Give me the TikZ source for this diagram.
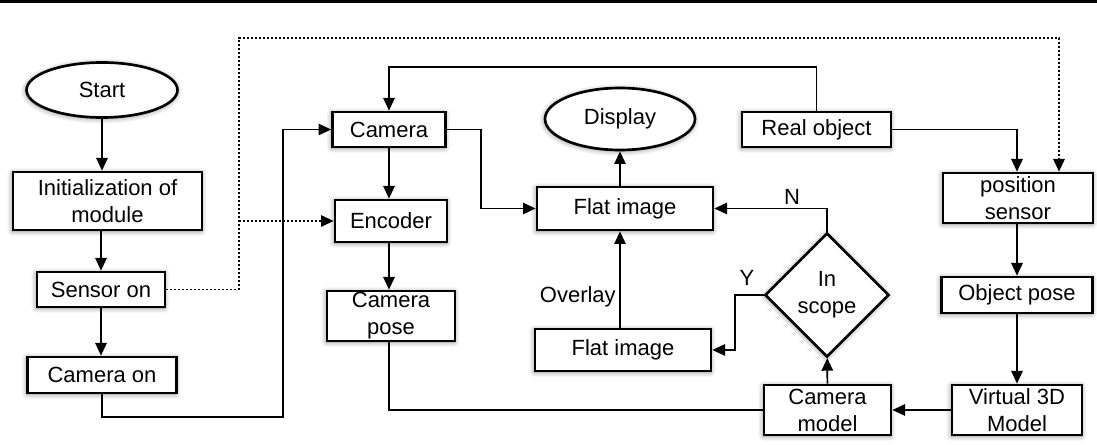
\documentclass[tikz,border=0pt]{standalone}
\usepackage{fontspec}
\setmainfont{Liberation Sans}
\usetikzlibrary{shapes.geometric,arrows.meta,shadows.blur}

\begin{document}
\begin{tikzpicture}[x=0.75pt, y=-0.75pt,
  font=\fontsize{16.5}{20.25}\selectfont,
  >={Triangle[length=9.5pt,width=8.5pt]},
  box/.style={draw, line width=2pt, fill=white, inner sep=0pt, align=center,
    blur shadow={shadow xshift=-0.5pt, shadow yshift=-0.8pt,
      shadow blur radius=4pt, shadow blur steps=8, shadow opacity=45}},
  term/.style={box, ellipse},
  test/.style={box, diamond},
  conn/.style={line width=1.3pt},
  sens/.style={line width=1.4pt, dash pattern=on 1.4pt off 1.6pt}]

 \useasboundingbox (0,0) rectangle (1097,445);
 \draw[line width=2pt] (0,1.3) -- (1097,1.3);

 % left column
 \node[term, minimum width=113.25pt, minimum height=41.25pt] (start) at (102,90) {Start};
 \node[box, minimum width=141.75pt, minimum height=43.5pt] (init) at (107.5,201) {Initialization of\\module};
 \node[box, minimum width=96pt, minimum height=26.25pt] (sensoron) at (101,289.5) {Sensor on};
 \node[box, minimum width=111.75pt, minimum height=27pt] (cameraon) at (102,375) {Camera on};

 % camera column
 \node[box, minimum width=84.75pt, minimum height=26.25pt] (camera) at (389,129.5) {Camera};
 \node[box, minimum width=84pt, minimum height=31.5pt] (encoder) at (391,221) {Encoder};
 \node[box, minimum width=96pt, minimum height=37.5pt] (campose) at (391,316) {Camera\\pose};

 % image column
 \node[term, minimum width=112.5pt, minimum height=46.5pt] (display) at (620,119) {Display};
 \node[box, minimum width=132pt, minimum height=32.25pt] (flat) at (625,208.5) {Flat image};
 \node[box, minimum width=132pt, minimum height=31.5pt] (flatlow) at (623,350) {Flat image};
 \node[anchor=east, inner sep=0pt] (overlay) at (616,297) {Overlay};

 % test
 \node[test, minimum width=93pt, minimum height=93pt] (scope) at (827,295) {In\\scope};
 \node[box, minimum width=95.25pt, minimum height=37.5pt] (cammodel) at (827.5,410) {Camera\\model};
 \node (lblN) at (792,197) {N};
 \node (lblY) at (747,278) {Y};

 % object column
 \node[box, minimum width=111.75pt, minimum height=26.25pt] (realobj) at (816.5,129.5) {Real object};
 \node[box, minimum width=112.5pt, minimum height=37.5pt] (possensor) at (1018,198) {position\\sensor};
 \node[box, minimum width=113.25pt, minimum height=27pt] (objpose) at (1017,295) {Object pose};
 \node[box, minimum width=97.5pt, minimum height=37.5pt] (virtual) at (1017,410) {Virtual 3D\\Model};

 \coordinate (jcam) at (283,417);
 \coordinate (jflat) at (481,170);
 \coordinate (jtop) at (389,67);
 \coordinate (jsen) at (239,38);
 \coordinate (jpos) at (1059,38);
 \coordinate (jy) at (735,320);

 \draw[conn,->] (start) -- (start |- init.north);
 \draw[conn,->] (init.south -| sensoron) -- (sensoron);
 \draw[conn,->] (sensoron) -- (sensoron |- cameraon.north);
 \draw[conn,->] (cameraon) |- (jcam) |- (camera);

 \draw[conn,->] (camera) -- (camera |- encoder.north);
 \draw[conn,->] (encoder.south -| camera) -- (camera |- campose.north);
 \draw[conn,->] (camera) -| (jflat) |- (flat);
 \draw[conn] (campose.south -| camera) |- (cammodel);

 \draw[conn,->] (flat.north -| display) -- (display);
 \draw[conn,->] (flatlow.north -| display) -- (display |- flat.south);

 \draw[conn,->] (realobj) |- (jtop) -- (camera);
 \draw[conn,->] (realobj) -| (objpose |- possensor.north);
 \draw[conn,->] (possensor.south -| objpose) -- (objpose);
 \draw[conn,->] (objpose) -- (virtual);
 \draw[conn,->] (virtual) -- (cammodel);
 \draw[conn,->] (cammodel) -- (scope);
 \draw[conn,->] (scope) |- (flat);
 \draw[conn,->] (scope) -| (jy) |- (flatlow);

 \draw[sens,->] (sensoron) -| (jsen) -- (jpos) -- (jpos |- possensor.north);
 \draw[sens,->] (jsen |- encoder) -- (encoder);

\end{tikzpicture}
\end{document}
